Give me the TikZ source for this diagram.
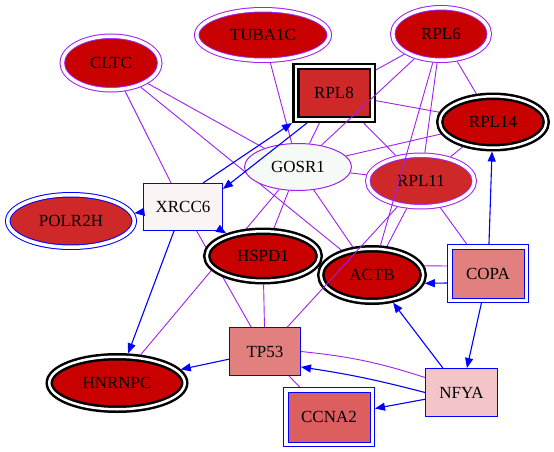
\documentclass[tikz,border=0pt]{standalone}
\usepackage{fontspec}
\setmainfont{Liberation Serif}
\usetikzlibrary{shapes.geometric,arrows.meta}
\pgfdeclarelayer{background}
\pgfsetlayers{background,main}
\definecolor{purp}{RGB}{160,32,240}
\definecolor{deep}{RGB}{200,0,0}
\definecolor{midred}{RGB}{206,40,40}
\definecolor{rose}{RGB}{226,128,128}
\definecolor{salmon}{RGB}{220,94,94}
\definecolor{blush}{RGB}{243,196,200}
\definecolor{snow}{RGB}{250,244,244}
\definecolor{mint}{RGB}{246,250,246}
\begin{document}
\begin{tikzpicture}[x=1pt,y=-1pt]
   \tikzset{gene/.style = {shape=ellipse,draw,inner sep=0pt,font=\fontsize{17}{20}\selectfont},
            prot/.style = {shape=rectangle,draw,inner sep=0pt,font=\fontsize{17}{20}\selectfont},
            ring/.style = {draw=purp,line width=1pt,double=white,double distance=3.5pt,outer sep=2.75pt},
            bring/.style = {draw=blue,line width=1pt,double=white,double distance=3.5pt,outer sep=2.75pt},
            core/.style = {draw=black,line width=2.5pt,double=white,double distance=2.5pt,outer sep=3.75pt},
            pp/.style = {draw=purp,line width=0.9pt},
            bb/.style = {draw=blue,line width=1.1pt,-{Triangle[length=10pt,width=8pt]}}}
   \useasboundingbox (0,0) rectangle (554,452);

   \node[gene,ring,fill=deep,minimum width=97.5pt,minimum height=53.5pt] (cltc) at (111,63) {CLTC};
   \node[gene,ring,fill=deep,minimum width=132.5pt,minimum height=50.5pt] (tuba1c) at (263,35) {TUBA1C};
   \node[gene,ring,fill=deep,minimum width=96.5pt,minimum height=52.5pt] (rpl6) at (441,34) {RPL6};
   \node[prot,core,fill=midred,minimum width=76.5pt,minimum height=52.5pt] (rpl8) at (334,93) {RPL8};
   \node[gene,core,fill=deep,minimum width=106.5pt,minimum height=51.5pt] (rpl14) at (493,122) {RPL14};
   \node[gene,draw=purp,line width=1pt,fill=mint,minimum width=107pt,minimum height=47pt] (gosr1) at (298,167) {GOSR1};
   \node[gene,ring,fill=midred,minimum width=106.5pt,minimum height=51.5pt] (rpl11) at (421,181) {RPL11};
   \node[prot,draw=blue,line width=1pt,fill=snow,minimum width=79pt,minimum height=47pt] (xrcc6) at (183,207) {XRCC6};
   \node[gene,bring,fill=midred,minimum width=126.5pt,minimum height=52.5pt] (polr2h) at (71,221) {POLR2H};
   \node[gene,core,fill=deep,minimum width=112.5pt,minimum height=49.5pt] (hspd1) at (263,256) {HSPD1};
   \node[gene,core,fill=deep,minimum width=102.5pt,minimum height=52.5pt] (actb) at (372,275) {ACTB};
   \node[prot,bring,fill=rose,minimum width=76.5pt,minimum height=53.5pt] (copa) at (488,273.5) {COPA};
   \node[prot,draw=blue,line width=1pt,fill=rose,minimum width=71pt,minimum height=48pt] (tp53) at (265,351.5) {TP53};
   \node[gene,core,fill=deep,minimum width=135.5pt,minimum height=52.5pt] (hnrnpc) at (117,383) {HNRNPC};
   \node[prot,draw=blue,line width=1pt,fill=blush,minimum width=72pt,minimum height=48pt] (nfya) at (461.5,392.5) {NFYA};
   \node[prot,bring,fill=salmon,minimum width=86.5pt,minimum height=54.5pt] (ccna2) at (329,417) {CCNA2};

   \begin{pgfonlayer}{background}
   \draw[pp] (cltc) -- (xrcc6);
   \draw[pp] (cltc) -- (gosr1);
   \draw[pp] (cltc) -- (actb);
   \draw[pp] (tuba1c) -- (gosr1);
   \draw[pp] (rpl6) -- (rpl8);
   \draw[pp] (rpl6) -- (rpl11);
   \draw[pp] (rpl6) -- (rpl14);
   \draw[pp] (rpl8) -- (rpl14);
   \draw[pp] (rpl8) -- (rpl11);
   \draw[pp] (rpl8) -- (gosr1);
   \draw[pp] (gosr1) -- (rpl14);
   \draw[pp] (gosr1) -- (rpl11);
   \draw[pp] (gosr1) -- (hspd1);
   \draw[pp] (gosr1) -- (actb);
   \draw[pp] (gosr1) -- (hnrnpc);
   \draw[pp] (rpl14) -- (rpl11);
   \draw[pp] (rpl11) -- (actb);
   \draw[pp] (rpl11) -- (copa);
   \draw[pp] (xrcc6) -- (tp53);
   \draw[pp] (hspd1) -- (tp53);
   \draw[pp] (actb.10) -- ([yshift=7.5pt]copa.west);
   \draw[pp] (tp53.east) to[bend left=6] ([yshift=15pt]nfya.west);
   \draw[pp] (tp53) -- (ccna2);
   \end{pgfonlayer}

   \draw[pp] (rpl6) -- (gosr1);
   \draw[pp] (rpl6) -- (actb);
   \draw[pp] (rpl11) -- (tp53);

   \draw[bb] ([xshift=20pt]xrcc6.north) -- (rpl8.south west);
   \draw[bb] ([xshift=-27pt]rpl8.south) -- ([yshift=18pt]xrcc6.east);
   \draw[bb] (xrcc6) -- (polr2h);
   \draw[bb] (xrcc6) -- (hspd1);
   \draw[bb] (xrcc6) -- (hnrnpc);
   \draw[bb] (copa) -- (rpl14);
   \draw[bb] ([yshift=-9.5pt]copa.west) -- (actb.-9);
   \draw[bb] (copa) -- (nfya);
   \draw[bb] (nfya) -- (actb);
   \draw[bb] (nfya.west) to[bend right=3] ([yshift=-15.5pt]tp53.east);
   \draw[bb] (nfya) -- (ccna2);
   \draw[bb] (tp53) -- (hnrnpc);
\end{tikzpicture}
\end{document}
